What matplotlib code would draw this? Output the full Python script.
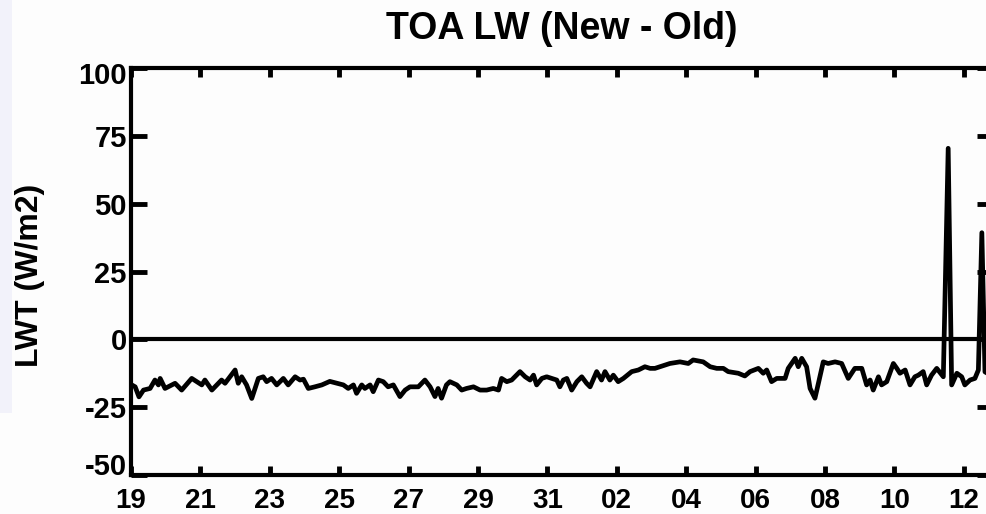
import matplotlib
matplotlib.use("Agg")
import matplotlib.pyplot as plt
from matplotlib.patches import Rectangle
from matplotlib.transforms import ScaledTranslation

plt.rcParams["font.family"] = ["Liberation Sans", "DejaVu Sans"]
plt.rcParams["font.weight"] = "bold"
plt.rcParams["axes.unicode_minus"] = False

# days since the 19th, and the LW difference (W/m2)
day_offset = [
    0.05, 0.12, 0.23, 0.36, 0.55, 0.69, 0.79, 0.84, 0.98, 1.27, 1.46, 1.75,
    2.04, 2.13, 2.33, 2.61, 2.71, 3.00, 3.09, 3.19, 3.33, 3.48, 3.67, 3.81,
    3.91, 4.05, 4.20, 4.39, 4.53, 4.73, 4.87, 4.97, 5.11, 5.30, 5.50, 5.73,
    6.12, 6.26, 6.41, 6.50, 6.65, 6.74, 6.89, 6.98, 7.13, 7.27, 7.41, 7.56,
    7.75, 7.90, 8.04, 8.28, 8.47, 8.62, 8.76, 8.85, 8.95, 9.09, 9.19, 9.39,
    9.53, 9.67, 9.87, 10.06, 10.25, 10.44, 10.59, 10.68, 10.83, 10.97, 11.21,
    11.36, 11.50, 11.60, 11.69, 11.84, 11.98, 12.12, 12.27, 12.36, 12.46,
    12.56, 12.70, 12.85, 12.99, 13.13, 13.23, 13.42, 13.56, 13.66, 13.80,
    13.90, 14.04, 14.19, 14.43, 14.62, 14.81, 14.96, 15.10, 15.24, 15.53,
    15.82, 16.06, 16.20, 16.49, 16.69, 16.88, 17.07, 17.21, 17.50, 17.69,
    17.84, 18.08, 18.22, 18.32, 18.46, 18.61, 18.85, 18.94, 19.14, 19.23,
    19.33, 19.47, 19.57, 19.71, 19.81, 19.95, 20.09, 20.29, 20.48, 20.67,
    20.86, 21.06, 21.20, 21.30, 21.39, 21.54, 21.63, 21.78, 21.97, 22.07,
    22.16, 22.31, 22.45, 22.59, 22.69, 22.83, 22.93, 23.07, 23.22, 23.41,
    23.55, 23.65, 23.80, 23.94, 24.03, 24.18, 24.32, 24.42, 24.52, 24.61,
    24.75,
]
lw_diff = [
    -17.0, -17.5, -21.2, -18.7, -18.1, -15.0, -16.8, -14.4, -18.1, -16.2,
    -18.7, -14.4, -16.8, -15.0, -18.7, -15.0, -16.2, -11.3, -16.2, -13.8,
    -16.8, -21.8, -14.4, -13.8, -15.6, -14.4, -16.8, -14.4, -16.8, -13.8,
    -15.0, -14.7, -18.1, -17.5, -16.8, -15.5, -16.8, -18.1, -16.8, -19.9,
    -16.8, -18.1, -16.8, -19.3, -15.0, -15.6, -17.5, -16.8, -21.1, -18.7,
    -17.5, -17.5, -15.0, -17.5, -21.1, -18.1, -21.7, -16.8, -15.6, -16.8,
    -18.7, -18.1, -17.5, -18.7, -18.7, -18.1, -18.7, -14.4, -15.6, -15.0,
    -11.9, -13.8, -15.0, -13.2, -16.8, -14.4, -13.8, -14.4, -15.0, -17.5,
    -15.0, -14.4, -18.7, -15.6, -13.8, -16.2, -17.5, -11.9, -15.0, -11.9,
    -15.0, -13.2, -15.6, -14.4, -11.9, -11.3, -10.1, -10.7, -10.7, -10.1,
    -8.9, -8.3, -8.9, -7.6, -8.3, -10.1, -10.7, -10.7, -11.9, -12.5, -13.5,
    -11.9, -10.7, -12.5, -11.3, -15.6, -14.4, -14.4, -10.7, -7.0, -10.1,
    -7.0, -10.1, -18.1, -21.7, -16.2, -8.3, -8.9, -8.3, -8.9, -14.4, -10.7,
    -10.7, -16.8, -15.0, -18.7, -13.8, -16.8, -15.6, -8.9, -10.7, -12.5,
    -11.3, -16.8, -13.8, -13.2, -11.9, -16.8, -13.2, -10.7, -13.8, 70.4,
    -16.8, -12.5, -13.8, -16.8, -15.0, -14.4, -11.3, 39.3, -12.0, -13.0,
]
tick_days = [0, 2, 4, 6, 8, 10, 12, 14, 16, 18, 20, 22, 24]
tick_labels = ["19", "21", "23", "25", "27", "29", "31",
               "02", "04", "06", "08", "10", "12"]
y_ticks = [-50, -25, 0, 25, 50, 75, 100]

W, H = 986, 514
fig = plt.figure(figsize=(W / 100, H / 100), dpi=100)
fig.patch.set_facecolor("#fdfdfd")
fig.patches.append(Rectangle((0, 1 - 413 / H), 12 / W, 413 / H,
                             transform=fig.transFigure, facecolor="#f2f2fa",
                             edgecolor="none", zorder=0))

# axes run a little past the right edge of the picture, as in the original
x_max = 24.85
px_per_day = 34.7
ax = fig.add_axes([131 / W, 1 - 475 / H, x_max * px_per_day / W, (475 - 68) / H])
ax.set_facecolor("#fdfdfd")

ax.axhline(0, color="black", linewidth=3.0, zorder=2)
ax.plot(day_offset, lw_diff, color="black", linewidth=3.4, zorder=3)

ax.set_xlim(0, x_max)
ax.set_ylim(-50, 100)
ax.set_xticks(tick_days)
ax.set_xticklabels(tick_labels)
ax.set_yticks(y_ticks)

for s in ax.spines.values():
    s.set_linewidth(3.0)
ax.tick_params(axis="x", direction="in", top=True, length=6.5, width=3.5,
               pad=9, labelsize=20)
ax.tick_params(axis="y", direction="in", right=True, length=11.5, width=3.5,
               pad=3, labelsize=21)
for lab in ax.get_xticklabels() + ax.get_yticklabels():
    lab.set_fontweight("bold")

# end labels sit inside the axis range, IDL style
yt = ax.yaxis.get_major_ticks()
yt[0].label1.set_verticalalignment("baseline")
yt[-1].label1.set_verticalalignment("top")
yt[-1].label1.set_transform(yt[-1].label1.get_transform()
                            + ScaledTranslation(0, 4 / 72, fig.dpi_scale_trans))

fig.text(0.5 * (131 + 131 + x_max * px_per_day) / W, 1 - 39 / H,
         "TOA LW (New - Old)", ha="center", va="baseline",
         fontsize=27, fontweight="bold")
fig.text(30 / W, 1 - 275 / H, "LWT (W/m2)", rotation=90, ha="center",
         va="center", fontsize=23, fontweight="bold")

fig.savefig("out.png", dpi=100)
plt.close(fig)
